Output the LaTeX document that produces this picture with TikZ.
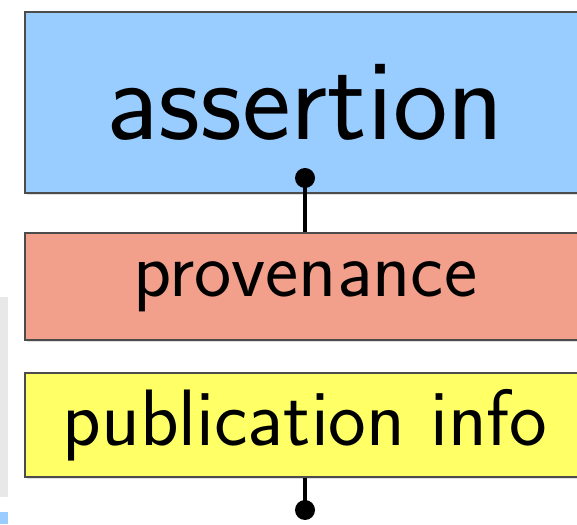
\documentclass[tikz,border=0pt]{standalone}
\usetikzlibrary{shadows}
\definecolor{bluebox}{HTML}{99CCFF}
\definecolor{salmonbox}{HTML}{F2A08C}
\definecolor{yellowbox}{HTML}{FFFF66}
\definecolor{panelgray}{HTML}{E8E8E8}
\tikzset{
  layer/.style={draw=black!70, line width=2.2pt, minimum width=560pt, inner sep=0pt,
    font=\sffamily, text=black,
    drop shadow={shadow xshift=1.5pt, shadow yshift=-2pt, opacity=0.25}},
  link/.style={line width=3.5pt, black},
  knob/.style={circle, fill=black, inner sep=0pt, minimum size=20pt}
}
\begin{document}
\begin{tikzpicture}[x=1pt,y=1pt]
\useasboundingbox (0,0) rectangle (577,524);
\clip (0,0) rectangle (577,524);
\fill[white] (0,0) rectangle (577,524);
\fill[panelgray] (0,27) rectangle (8,227);
\fill[bluebox] (0,0) rectangle (8,12);
\node[layer, fill=bluebox, minimum height=181pt, font=\sffamily\fontsize{116}{130}\selectfont] (assert) at (305,421.5) {assertion};
\node[layer, fill=salmonbox, minimum height=107pt, font=\sffamily\fontsize{79}{90}\selectfont] (prov) at (305,237.5) {provenance};
\node[layer, fill=yellowbox, minimum height=104pt, font=\sffamily\fontsize{80}{90}\selectfont] (pub) at (305,99) {publication info};
\node[knob] (d1) at (305,346) {};
\node[knob] (d2) at (305,14) {};
\draw[link] (d1.center) -- (prov.north -| d1);
\draw[link] (pub.south -| d2) -- (d2.center);
\end{tikzpicture}
\end{document}
